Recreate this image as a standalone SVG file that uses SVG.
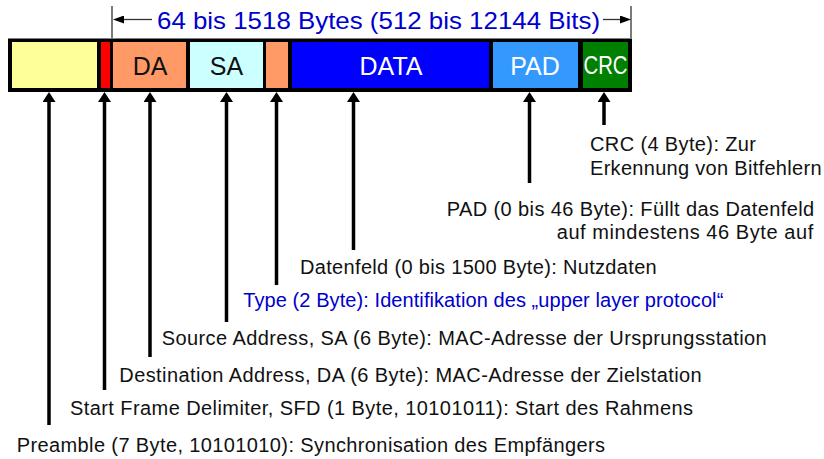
<svg xmlns="http://www.w3.org/2000/svg" width="824" height="459" viewBox="0 0 824 459">
  <style>
    text { font-family: "Liberation Sans", Arial, sans-serif; }
    .lbl { font-size: 20px; fill: #111; }
    .blue { fill: #0000cc; }
    .cell { font-size: 25px; text-anchor: middle; }
    .up { stroke: #000; stroke-width: 3.5; fill: none; marker-end: url(#head); }
    .dim { stroke: #333; stroke-width: 1.3; fill: none; }
  </style>
  <defs>
    <marker id="head" markerUnits="userSpaceOnUse" viewBox="0 0 10 13" refX="0" refY="6.5" markerWidth="10" markerHeight="13" orient="auto">
      <path d="M0,0 L10,6.5 L0,13 z" fill="#000"/>
    </marker>
    <marker id="dimhead" markerUnits="userSpaceOnUse" viewBox="0 0 11 8" refX="0" refY="4" markerWidth="11" markerHeight="8" orient="auto">
      <path d="M0,0 L11,4 L0,8 z" fill="#000"/>
    </marker>
  </defs>

  <rect width="824" height="459" fill="#fff"/>

  <!-- frame size dimension -->
  <g id="dimension">
    <line class="dim" x1="112" y1="6" x2="112" y2="38"/>
    <line class="dim" x1="631" y1="6" x2="631" y2="38"/>
    <line class="dim" x1="152" y1="19.5" x2="124" y2="19.5" marker-end="url(#dimhead)"/>
    <line class="dim" x1="603" y1="19.5" x2="620" y2="19.5" marker-end="url(#dimhead)"/>
    <text x="157" y="28.5" font-size="24.5" class="blue" textLength="443" lengthAdjust="spacingAndGlyphs">64 bis 1518 Bytes (512 bis 12144 Bits)</text>
  </g>

  <!-- Ethernet frame -->
  <g id="frame">
    <rect x="8" y="38.5" width="624" height="53.5" fill="#000"/>
    <g id="preamble"><rect x="12" y="42" width="85" height="46" fill="#ffff99"/></g>
    <g id="sfd"><rect x="101" y="42" width="9" height="46" fill="#ff0000"/></g>
    <g id="da"><rect x="113" y="42" width="73" height="46" fill="#ff9966"/>
      <text class="cell" x="150" y="75" fill="#111">DA</text></g>
    <g id="sa"><rect x="190" y="42" width="73" height="46" fill="#ccffff"/>
      <text class="cell" x="226.5" y="75" fill="#111">SA</text></g>
    <g id="type"><rect x="266" y="42" width="22" height="46" fill="#ff9966"/></g>
    <g id="data"><rect x="292" y="42" width="197" height="46" fill="#0000ff"/>
      <text class="cell" x="391" y="74.5" fill="#fff">DATA</text></g>
    <g id="pad"><rect x="493" y="42" width="85" height="46" fill="#3399ff"/>
      <text class="cell" x="535" y="74.5" fill="#fff">PAD</text></g>
    <g id="crc"><rect x="583" y="42" width="45" height="46" fill="#008000"/>
      <text class="cell" x="605.5" y="73.5" fill="#fff" font-size="20" textLength="44" lengthAdjust="spacingAndGlyphs">CRC</text></g>
  </g>

  <!-- pointer arrows -->
  <g id="connectors">
    <line class="up" x1="49" y1="425" x2="49" y2="102"/>
    <line class="up" x1="104.5" y1="390" x2="104.5" y2="102"/>
    <line class="up" x1="150" y1="357" x2="150" y2="102"/>
    <line class="up" x1="226.5" y1="322" x2="226.5" y2="102"/>
    <line class="up" x1="276.5" y1="285" x2="276.5" y2="102"/>
    <line class="up" x1="353.5" y1="250" x2="353.5" y2="102"/>
    <line class="up" x1="529.5" y1="183" x2="529.5" y2="102"/>
    <line class="up" x1="604" y1="125" x2="604" y2="102"/>
  </g>

  <!-- field descriptions -->
  <g id="desc-crc">
    <text class="lbl" x="590" y="151" textLength="166" lengthAdjust="spacing">CRC (4 Byte): Zur</text>
    <text class="lbl" x="590" y="174.5" textLength="231.5" lengthAdjust="spacing">Erkennung von Bitfehlern</text>
  </g>
  <g id="desc-pad">
    <text class="lbl" x="446.7" y="216" textLength="367.5" lengthAdjust="spacing">PAD (0 bis 46 Byte): Füllt das Datenfeld</text>
    <text class="lbl" x="556.7" y="239" textLength="256.5" lengthAdjust="spacing">auf mindestens 46 Byte auf</text>
  </g>
  <g id="desc-data">
    <text class="lbl" x="300" y="274" textLength="356.7" lengthAdjust="spacing">Datenfeld (0 bis 1500 Byte): Nutzdaten</text>
  </g>
  <g id="desc-type">
    <text class="lbl blue" x="243.3" y="306.5" textLength="480" lengthAdjust="spacing">Type (2 Byte): Identifikation des „upper layer protocol“</text>
  </g>
  <g id="desc-sa">
    <text class="lbl" x="161.7" y="345" textLength="605" lengthAdjust="spacing">Source Address, SA (6 Byte): MAC-Adresse der Ursprungsstation</text>
  </g>
  <g id="desc-da">
    <text class="lbl" x="119.3" y="381.5" textLength="582.4" lengthAdjust="spacing">Destination Address, DA (6 Byte): MAC-Adresse der Zielstation</text>
  </g>
  <g id="desc-sfd">
    <text class="lbl" x="70" y="415" textLength="623" lengthAdjust="spacing">Start Frame Delimiter, SFD (1 Byte, 10101011): Start des Rahmens</text>
  </g>
  <g id="desc-preamble">
    <text class="lbl" x="16.7" y="451.5" textLength="588.3" lengthAdjust="spacing">Preamble (7 Byte, 10101010): Synchronisation des Empfängers</text>
  </g>
</svg>
